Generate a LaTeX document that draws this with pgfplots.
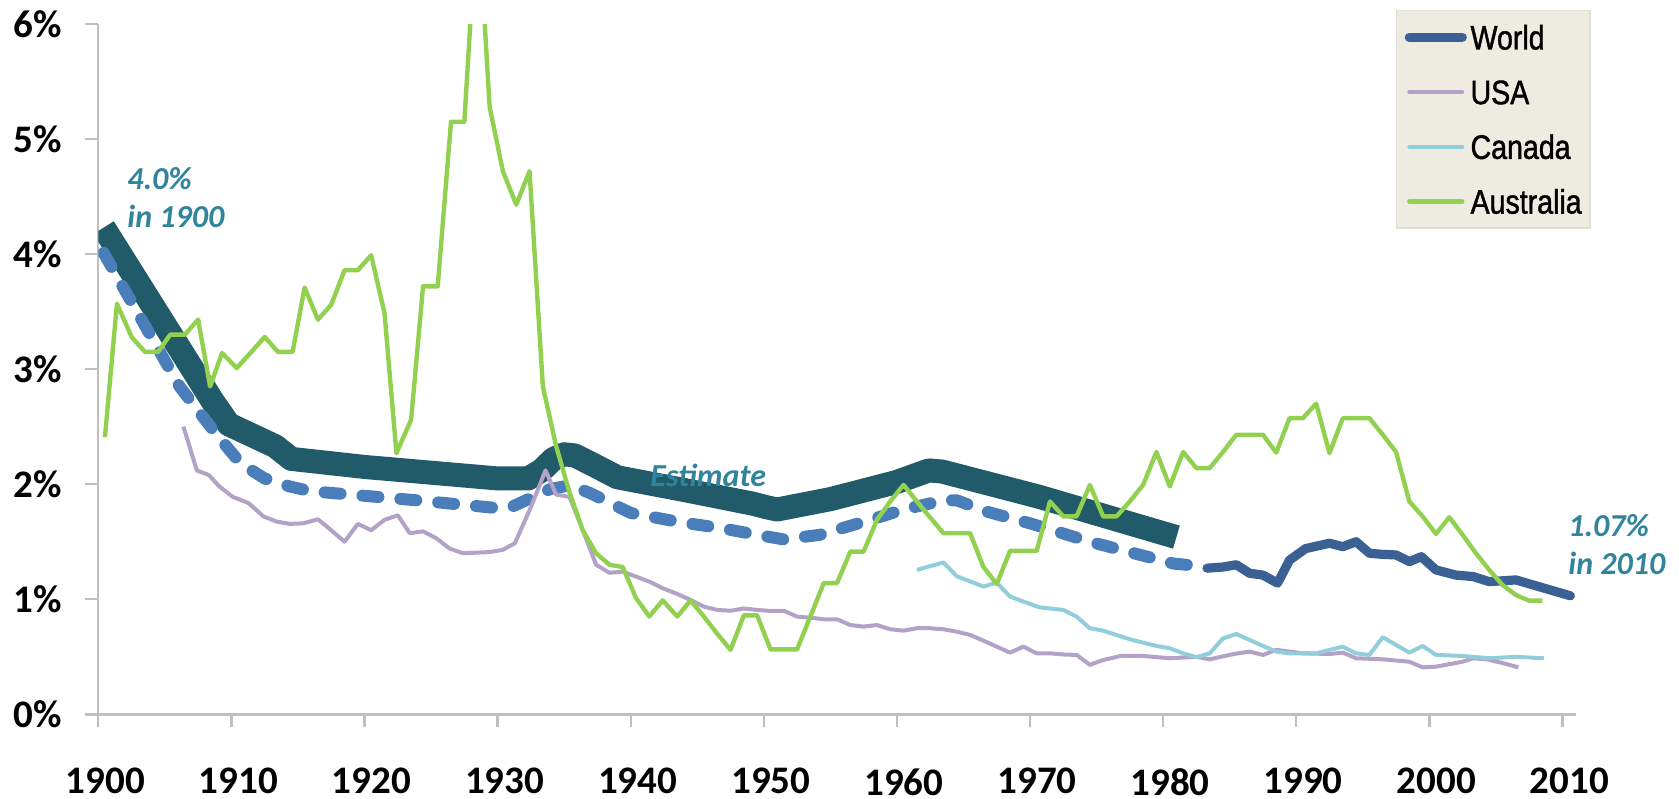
\documentclass[border=0pt]{standalone}
\usepackage{fontspec}
\setmainfont{Carlito}
\newfontfamily\legfont{Liberation Sans}[FakeStretch=0.84,FakeBold=1.2]
\usepackage{pgfplots}
\pgfplotsset{compat=1.18}
\definecolor{bandc}{HTML}{215A69}
\definecolor{dashc}{HTML}{4A7EBB}
\definecolor{worldc}{HTML}{3A6094}
\definecolor{usac}{HTML}{B3A2C7}
\definecolor{canc}{HTML}{92CDDC}
\definecolor{ausc}{HTML}{92D050}
\definecolor{annotc}{HTML}{31849B}
\definecolor{axisgray}{HTML}{BFBFBF}
\definecolor{legbg}{HTML}{EEECE1}
\definecolor{legborder}{HTML}{E2E0D6}
\begin{document}
\begin{tikzpicture}
\useasboundingbox (0,0) rectangle (839.5pt,399pt);
\begin{axis}[
  at={(49.15pt,41.85pt)}, anchor=south west,
  scale only axis, width=738.7pt, height=345.15pt,
  xmin=1900, xmax=2011, ymin=0, ymax=6,
  axis x line=bottom, axis y line=left,
  axis line style={-, draw=axisgray, line width=1.2pt},
  xtick={1900,1910,1920,1930,1940,1950,1960,1970,1980,1990,2000,2010},
  xticklabels={1900,1910,1920,1930,1940,1950,1960,1970,1980,1990,2000,2010},
  ytick={0,1,2,3,4,5,6},
  yticklabels={0\%,1\%,2\%,3\%,4\%,5\%,6\%},
  tick align=outside, major tick length=6.5pt,
  tick style={draw=axisgray, line width=1.2pt},
  tick label style={font=\fontsize{19.5}{22}\selectfont\bfseries},
  xticklabel style={anchor=north, inner sep=0pt, yshift=-20.35pt, xshift=3.5pt},
  yticklabel style={anchor=east, inner sep=0pt, xshift=-11.65pt},
  clip mode=individual,
  legend cell align=left,
  legend style={at={(0.8782,1.0203)}, anchor=north west, fill=legbg, draw=legborder,
    line width=0.6pt, inner xsep=4.15pt, inner ysep=7.25pt, row sep=15.15pt,
    column sep=1.85pt, font=\legfont\fontsize{17}{20}\selectfont,
    nodes={inner sep=0pt, text height=12.2pt, text depth=0pt}},
  legend image code/.code={\draw[#1, line cap=round] (0pt,0pt) -- (26.5pt,0pt);},
]
% estimated world band
\addplot[forget plot, color=bandc, line width=12pt, line join=round] coordinates {
(1900.4,4.23) (1908.6,2.72) (1909.8,2.52) (1913.3,2.33) (1914.5,2.22) (1920,2.15)
(1925,2.10) (1930,2.05) (1932.3,2.05) (1933.3,2.12) (1934.2,2.22) (1935,2.26)
(1935.8,2.25) (1937,2.18) (1939,2.06) (1944,1.95) (1949.2,1.83) (1950.2,1.80)
(1951,1.78) (1955,1.87) (1960,2.02) (1962.4,2.12) (1963.4,2.11) (1970.7,1.89)
(1981,1.54)};
% dashed world estimate
\addplot[forget plot, color=dashc, line width=6pt, line cap=round, line join=round,
  dash pattern=on 8pt off 11pt] coordinates {
(1900.4,4.01) (1906.1,2.85) (1908.9,2.43) (1910.7,2.18) (1912.5,2.05) (1914.4,1.98)
(1915.9,1.94) (1923.9,1.86) (1930.2,1.79) (1931,1.80) (1932.5,1.88) (1934,1.96)
(1935.5,1.99) (1937,1.92) (1940,1.75) (1943.7,1.67) (1946.7,1.62) (1949.5,1.56)
(1951.5,1.52) (1954.2,1.56) (1958,1.69) (1960.5,1.78) (1963.5,1.86) (1964.5,1.86)
(1966.8,1.76) (1970,1.66) (1974.5,1.50) (1978.3,1.385) (1980.8,1.31) (1982.6,1.29)};
% world
\addplot[color=worldc, line width=4.6pt, line cap=round, line join=round] coordinates {
(1983.3,1.27) (1984.5,1.28) (1985.5,1.30) (1986.5,1.226) (1987.5,1.21) (1988.6,1.14)
(1989.5,1.34) (1990.7,1.44) (1992.5,1.487) (1993.5,1.457) (1994.5,1.50) (1995.5,1.40)
(1996.5,1.39) (1997.5,1.385) (1998.5,1.327) (1999.4,1.37) (2000.5,1.255) (2002,1.21)
(2003.3,1.197) (2004.5,1.153) (2006.5,1.168) (2010.6,1.03)};
\addlegendentry{World}
% USA
\addplot[color=usac, line width=2pt, line join=round] coordinates {
(1906.4,2.50) (1907.4,2.12) (1908.3,2.08) (1909.1,1.98) (1910.1,1.89) (1911.3,1.835)
(1912.4,1.72) (1913.4,1.675) (1914.4,1.655) (1915.4,1.66) (1916.5,1.695) (1917.5,1.60)
(1918.5,1.50) (1919.5,1.655) (1920.5,1.60) (1921.5,1.69) (1922.5,1.73) (1923.4,1.574)
(1924.4,1.59) (1925.4,1.53) (1926.4,1.44) (1927.4,1.40) (1928.4,1.405) (1929.4,1.41)
(1930.4,1.43) (1931.3,1.487) (1932.5,1.80) (1933.6,2.12) (1934.4,1.91) (1935.4,1.89)
(1936.4,1.60) (1937.4,1.30) (1938.4,1.23) (1939.4,1.24) (1940.4,1.197) (1941.4,1.153)
(1942.4,1.096) (1943.5,1.046) (1944.5,0.994) (1945.5,0.936) (1946.5,0.907) (1947.5,0.90)
(1948.5,0.92) (1949.5,0.907) (1950.5,0.898) (1951.5,0.90) (1952.5,0.849) (1953.5,0.84)
(1954.5,0.826) (1955.5,0.826) (1956.5,0.776) (1957.5,0.762) (1958.5,0.776) (1959.5,0.739)
(1960.5,0.727) (1961.5,0.748) (1962.5,0.748) (1963.5,0.739) (1964.5,0.718) (1965.5,0.69)
(1966.5,0.64) (1967.5,0.588) (1968.5,0.536) (1969.5,0.588) (1970.5,0.53) (1971.5,0.53)
(1972.5,0.52) (1973.5,0.516) (1974.5,0.43) (1975.5,0.472) (1976.8,0.507) (1978.5,0.507)
(1980.5,0.487) (1982.5,0.50) (1983.5,0.478) (1985.3,0.524) (1986.5,0.545) (1987.5,0.516)
(1988.5,0.56) (1990.5,0.53) (1992.5,0.524) (1993.5,0.536) (1994.5,0.487) (1996.5,0.478)
(1998.5,0.457) (1999.5,0.408) (2000.5,0.414) (2002.5,0.457) (2003.3,0.487) (2004.3,0.478)
(2005.6,0.443) (2006.7,0.408)};
\addlegendentry{USA}
% Canada
\addplot[color=canc, line width=2pt, line join=round] coordinates {
(1961.5,1.255) (1963.5,1.32) (1964.5,1.20) (1966.5,1.11) (1967.5,1.145) (1968.5,1.023)
(1970.7,0.93) (1972.5,0.907) (1973.5,0.849) (1974.5,0.748) (1975.5,0.727) (1977.5,0.652)
(1979.5,0.594) (1980.5,0.574) (1981.5,0.53) (1982.5,0.496) (1983.5,0.53) (1984.5,0.66)
(1985.5,0.698) (1986.5,0.646) (1987.5,0.594) (1988.5,0.545) (1989.5,0.53) (1991.5,0.53)
(1992.5,0.56) (1993.5,0.588) (1994.5,0.53) (1995.5,0.516) (1996.5,0.67) (1997.5,0.603)
(1998.5,0.536) (1999.5,0.594) (2000.5,0.516) (2002.5,0.507) (2004.5,0.487) (2006.5,0.50)
(2008.6,0.487)};
\addlegendentry{Canada}
% Australia
\addplot[color=ausc, line width=2.2pt, line join=round] coordinates {
(1900.5,2.41) (1901.4,3.57) (1902.5,3.28) (1903.5,3.15) (1904.5,3.15) (1905.4,3.30)
(1906.5,3.30) (1907.5,3.43) (1908.4,2.85) (1909.3,3.14) (1910.4,3.01) (1911.5,3.15)
(1912.5,3.28) (1913.5,3.15) (1914.6,3.15) (1915.5,3.71) (1916.5,3.43) (1917.5,3.56)
(1918.5,3.86) (1919.5,3.86) (1920.5,3.99) (1921.5,3.49) (1922.4,2.27) (1923.5,2.56)
(1924.4,3.72) (1925.5,3.72) (1926.5,5.15) (1927.5,5.15) (1928.5,7.05) (1929.4,5.28)
(1930.4,4.72) (1931.4,4.43) (1932.4,4.72) (1933.4,2.85) (1934.4,2.33) (1935.4,1.93)
(1936.4,1.60) (1937.4,1.40) (1938.4,1.30) (1939.4,1.28) (1940.4,1.01) (1941.4,0.85)
(1942.4,0.99) (1943.5,0.85) (1944.5,0.99) (1945.5,0.85) (1946.5,0.70) (1947.5,0.56)
(1948.5,0.86) (1949.5,0.86) (1950.5,0.565) (1951.5,0.565) (1952.5,0.565) (1953.5,0.85)
(1954.5,1.14) (1955.5,1.14) (1956.5,1.414) (1957.5,1.414) (1958.5,1.69) (1959.5,1.85)
(1960.5,1.994) (1961.5,1.85) (1962.5,1.71) (1963.5,1.574) (1964.5,1.574) (1965.5,1.574)
(1966.5,1.28) (1967.5,1.133) (1968.5,1.42) (1969.5,1.42) (1970.5,1.42) (1971.5,1.85)
(1972.5,1.72) (1973.5,1.72) (1974.5,1.994) (1975.5,1.72) (1976.5,1.72) (1977.5,1.85)
(1978.5,1.994) (1979.5,2.28) (1980.5,1.98) (1981.5,2.28) (1982.5,2.14) (1983.5,2.14)
(1984.5,2.28) (1985.5,2.43) (1986.5,2.43) (1987.5,2.43) (1988.5,2.275) (1989.5,2.574)
(1990.5,2.574) (1991.5,2.70) (1992.5,2.27) (1993.5,2.574) (1994.5,2.574) (1995.5,2.574)
(1996.5,2.43) (1997.5,2.28) (1998.5,1.85) (1999.5,1.72) (2000.5,1.568) (2001.5,1.713)
(2002.5,1.56) (2003.5,1.40) (2004.5,1.255) (2005.5,1.124) (2006.5,1.037) (2007.5,0.988)
(2008.5,0.988)};
\addlegendentry{Australia}
\tikzset{annot/.style={anchor=base west, inner sep=0pt, text=annotc,
  font=\fontsize{16}{19}\selectfont\bfseries\itshape}}
\node[annot] at (axis cs:1902.16,4.56) {4.0\%};
\node[annot] at (axis cs:1902.16,4.229) {in 1900};
\node[annot] at (axis cs:1941.45,1.98) {Estimate};
\node[annot] at (axis cs:2010.42,1.542) {1.07\%};
\node[annot] at (axis cs:2010.42,1.211) {in 2010};
\end{axis}
\end{tikzpicture}
\end{document}
